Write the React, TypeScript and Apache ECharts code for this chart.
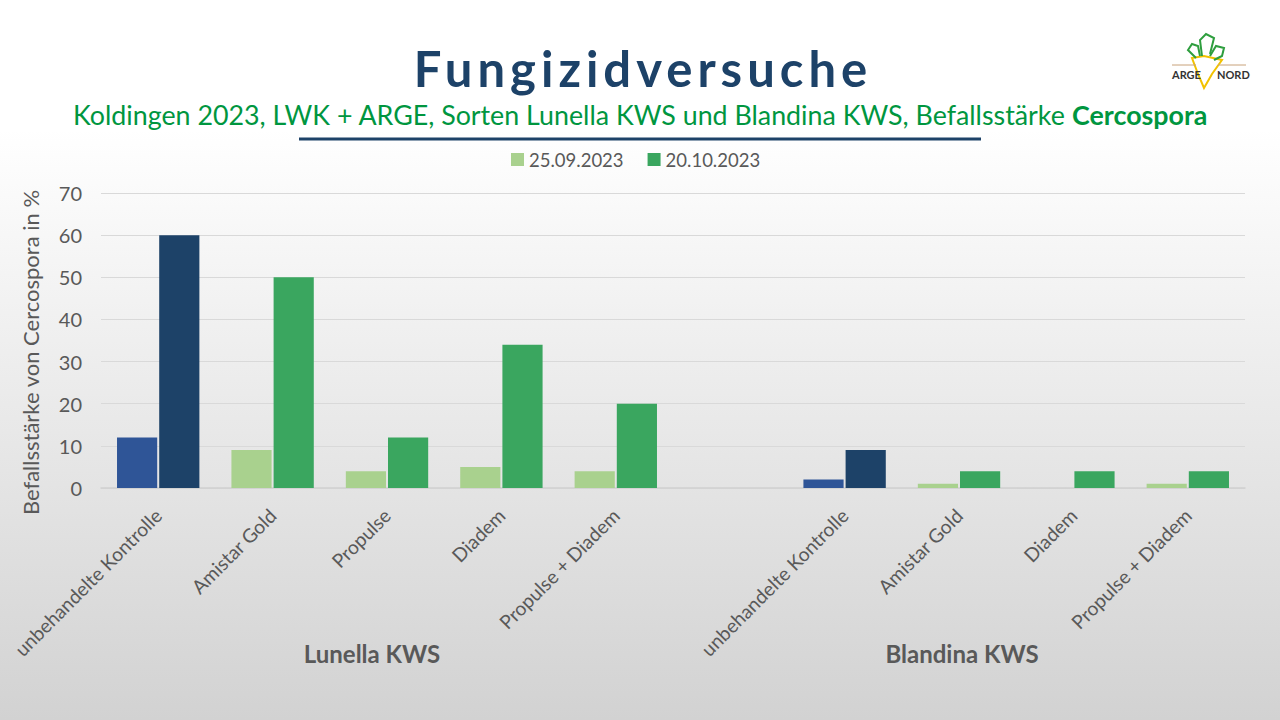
import React, { useEffect, useRef } from "react";
import * as echarts from "echarts";

const categories = [
  "unbehandelte Kontrolle",
  "Amistar Gold",
  "Propulse",
  "Diadem",
  "Propulse + Diadem",
  "",
  "unbehandelte Kontrolle",
  "Amistar Gold",
  "Diadem",
  "Propulse + Diadem",
];
const seriesNames = ["25.09.2023", "20.10.2023"];
const values1 = [12, 9, 4, 5, 4, null, 2, 1, 0, 1];
const values2 = [60, 50, 12, 34, 20, null, 9, 4, 4, 4];
const controlIdx = [0, 6];
const groupLabels = ["Lunella KWS", "Blandina KWS"];
const yTicks = [0, 10, 20, 30, 40, 50, 60, 70];

const C_LIGHT = "#A9D18E";
const C_GREEN = "#3AA65F";
const C_BLUE = "#2F5597";
const C_NAVY = "#1D4268";
const TXT = "#595959";
const FONT = "Lato, 'Open Sans', sans-serif";

export default function App() {
  const ref = useRef<HTMLDivElement>(null);
  useEffect(() => {
    document.body.style.margin = "0";
    const chart = echarts.init(ref.current!, undefined, { renderer: "svg" });
    const mk = (vals: (number | null)[], ctrl: string) =>
      vals.map((v, i) =>
        controlIdx.includes(i) ? { value: v, itemStyle: { color: ctrl } } : v
      );
    chart.setOption({
      animation: false,
      backgroundColor: {
        type: "linear",
        x: 0, y: 0, x2: 0, y2: 1,
        colorStops: [
          { offset: 0, color: "#ffffff" },
          { offset: 0.18, color: "#ffffff" },
          { offset: 1, color: "#d2d2d2" },
        ],
      },
      textStyle: { fontFamily: FONT },
      title: [
        {
          text: "Fungizidversuche",
          left: 638,
          textAlign: "center",
          top: 38,
          textStyle: { fontFamily: FONT, fontSize: 49, fontWeight: "bold", color: C_NAVY },
        },
        {
          text: "Koldingen 2023, LWK + ARGE, Sorten Lunella KWS und Blandina KWS, Befallsstärke {b|Cercospora}",
          left: "center",
          top: 96,
          textStyle: {
            fontFamily: FONT,
            fontSize: 26.8,
            fontWeight: "normal",
            color: "#00963F",
            rich: { b: { fontFamily: FONT, fontSize: 26.8, fontWeight: "bold", color: "#00963F" } },
          },
        },
      ],
      legend: {
        top: 145,
        left: 506,
        itemWidth: 13,
        itemHeight: 13,
        itemGap: 24,
        icon: "rect",
        textStyle: { color: TXT, fontSize: 18.5, fontFamily: FONT },
        data: seriesNames,
      },
      grid: { left: 101, right: 35, top: 193, bottom: 232, containLabel: false },
      xAxis: {
        type: "category",
        data: categories,
        axisLine: { show: true, lineStyle: { color: "#d0d0d0", width: 1.5 } },
        axisTick: { show: false },
        axisLabel: {
          rotate: 45,
          interval: 0,
          color: TXT,
          fontSize: 19.3,
          fontFamily: FONT,
          margin: 24,
        },
      },
      yAxis: {
        type: "value",
        min: 0,
        max: 70,
        interval: 10,
        name: "Befallsstärke von Cercospora in %",
        nameLocation: "middle",
        nameGap: 60,
        nameTextStyle: { color: TXT, fontSize: 22, fontFamily: FONT, padding: [0, 24, 0, 0] },
        axisLabel: {
          color: TXT,
          fontSize: 20,
          fontFamily: FONT,
          margin: 19,
          formatter: (v: number) => (yTicks.includes(v) ? String(v) : ""),
        },
        splitLine: { lineStyle: { color: "#d9d9d9", width: 1 } },
        axisLine: { show: false },
        axisTick: { show: false },
      },
      series: [
        {
          name: seriesNames[0],
          type: "bar",
          data: mk(values1, C_BLUE),
          itemStyle: { color: C_LIGHT },
          barGap: "5%",
          barCategoryGap: "28%",
        },
        {
          name: seriesNames[1],
          type: "bar",
          data: mk(values2, C_NAVY),
          itemStyle: { color: C_GREEN },
        },
      ],
      graphic: [
        {
          type: "line",
          shape: { x1: 299, y1: 139, x2: 981, y2: 139 },
          style: { stroke: C_NAVY, lineWidth: 3 },
        },
        {
          type: "text",
          x: 372,
          y: 653,
          style: {
            text: groupLabels[0],
            fill: TXT,
            font: `bold 24px ${FONT}`,
            align: "center",
            verticalAlign: "middle",
          },
        },
        {
          type: "text",
          x: 962,
          y: 653,
          style: {
            text: groupLabels[1],
            fill: TXT,
            font: `bold 24px ${FONT}`,
            align: "center",
            verticalAlign: "middle",
          },
        },
        // logo
        {
          type: "group",
          x: 1170,
          y: 34,
          children: [
            {
              type: "polygon",
              shape: { points: [[22, 24], [34, 22], [52, 26], [42, 40], [34, 54], [28, 40]] },
              style: { fill: "#ffffff", stroke: "#F2C200", lineWidth: 2 },
            },
            {
              type: "polyline",
              shape: { points: [[26, 24], [18, 16], [22, 10], [28, 12], [30, 22]] },
              style: { fill: "none", stroke: "#2E9E3E", lineWidth: 2 },
            },
            {
              type: "polyline",
              shape: { points: [[32, 22], [30, 6], [36, 0], [44, 4], [40, 20]] },
              style: { fill: "none", stroke: "#2E9E3E", lineWidth: 2 },
            },
            {
              type: "polyline",
              shape: { points: [[40, 22], [46, 12], [54, 14], [52, 22], [44, 26]] },
              style: { fill: "none", stroke: "#2E9E3E", lineWidth: 2 },
            },
            {
              type: "line",
              shape: { x1: 2, y1: 31, x2: 26, y2: 31 },
              style: { stroke: "#C8A27A", lineWidth: 1 },
            },
            {
              type: "line",
              shape: { x1: 48, y1: 31, x2: 76, y2: 31 },
              style: { stroke: "#C8A27A", lineWidth: 1 },
            },
            {
              type: "text",
              x: 2,
              y: 35,
              style: { text: "ARGE", fill: "#333333", font: `bold 11px ${FONT}` },
            },
            {
              type: "text",
              x: 47,
              y: 35,
              style: { text: "NORD", fill: "#333333", font: `bold 11px ${FONT}` },
            },
          ],
        },
      ],
    });
    return () => chart.dispose();
  }, []);
  return (
    <>
      <style>{`svg text[style*="49px"]{letter-spacing:5px;}`}</style>
      <div
        ref={ref}
        style={{ position: "fixed", left: 0, top: 0, width: 1280, height: 720 }}
      />
    </>
  );
}
